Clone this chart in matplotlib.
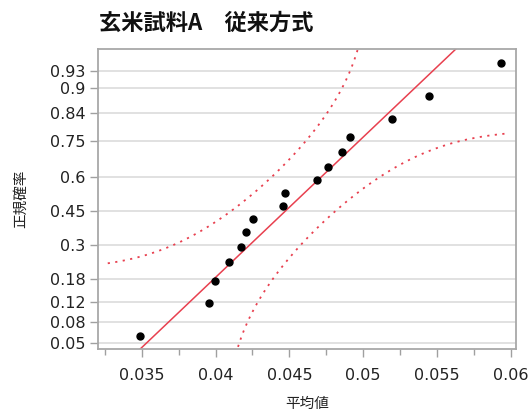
import numpy as np
import matplotlib
matplotlib.use("Agg")
import matplotlib.pyplot as plt
from matplotlib.ticker import FixedLocator, MultipleLocator
from statistics import NormalDist

# Sample values (sorted)
values = [0.03491, 0.03957, 0.03995, 0.04088, 0.04174, 0.04204, 0.04251, 0.04459,
          0.04468, 0.04685, 0.04762, 0.04857, 0.04911, 0.05196, 0.05443, 0.05936]
prob_ticks = [0.05, 0.08, 0.12, 0.18, 0.3, 0.45, 0.6, 0.75, 0.84, 0.9, 0.93]
x_ticks = [0.035, 0.04, 0.045, 0.05, 0.055, 0.06]
lillie_d = 0.213  # Lilliefors critical value, n=16, alpha=0.05

title = "玄米試料A　従来方式"
xlabel = "平均値"
ylabel = "正規確率"

nd = NormalDist()
jp = ["Noto Sans CJK JP", "DejaVu Sans"]
red = "#e8404f"

x = np.array(values)
n = len(x)
z = np.array([nd.inv_cdf((i + 1) / (n + 1)) for i in range(n)])
mu, sd = x.mean(), x.std(ddof=1)

fig = plt.figure(figsize=(5.29, 4.13), dpi=100)
ax = fig.add_axes([98 / 529, 1 - 349 / 413, (516 - 98) / 529, (349 - 49) / 413])

# grid lines at probability ticks
yt = [nd.inv_cdf(p) for p in prob_ticks]
for v in yt:
    ax.axhline(v, color="#d9d9d9", lw=1.1, zorder=0)

# fitted line
xl = np.array([0.030, 0.062])
ax.plot(xl, (xl - mu) / sd, color=red, lw=1.1, zorder=2)

# Lilliefors confidence bounds
xc = np.linspace(0.0327, 0.0597, 300)
pc = np.array([nd.cdf(v) for v in (xc - mu) / sd])
up = np.where(pc + lillie_d < 1, pc + lillie_d, np.nan)
lo = np.where(pc - lillie_d > 0, pc - lillie_d, np.nan)
zu = np.array([nd.inv_cdf(p) if np.isfinite(p) else np.nan for p in up])
zl = np.array([nd.inv_cdf(p) if np.isfinite(p) else np.nan for p in lo])
ax.plot(xc, zu, color=red, lw=1.3, ls=(0, (1.2, 3)), zorder=2)
ax.plot(xc, zl, color=red, lw=1.3, ls=(0, (1.2, 3)), zorder=2)

ax.plot(x, z, "o", color="black", ms=5, zorder=3)

ax.set_xlim(0.03204, 0.06035)
ax.set_ylim(-1.715, 1.728)

ax.yaxis.set_major_locator(FixedLocator(yt))
ax.set_yticklabels([f"{p:g}" for p in prob_ticks])
ax.xaxis.set_major_locator(FixedLocator(x_ticks))
ax.xaxis.set_minor_locator(MultipleLocator(0.0025))
ax.set_xticklabels([f"{v:g}" for v in x_ticks])

for s in ax.spines.values():
    s.set_color("#a8a8a8")
    s.set_linewidth(1.3)
ax.tick_params(axis="both", which="major", length=6, width=1, color="#a0a0a0",
               labelsize=11.5, labelcolor="#222222", pad=3)
ax.tick_params(axis="x", which="minor", length=4, width=1, color="#a0a0a0")
ax.tick_params(axis="x", which="major", pad=8)

ax.set_xlabel(xlabel, family=jp, fontsize=10.5, color="#222222", labelpad=10)
ax.set_ylabel(ylabel, family=jp, fontsize=10.5, color="#222222", labelpad=16)
fig.text(99 / 529, 1 - 23 / 413, title, family=jp, fontsize=16, fontweight="bold",
         ha="left", va="center", color="#111111")

fig.savefig("out.png", dpi=100)
